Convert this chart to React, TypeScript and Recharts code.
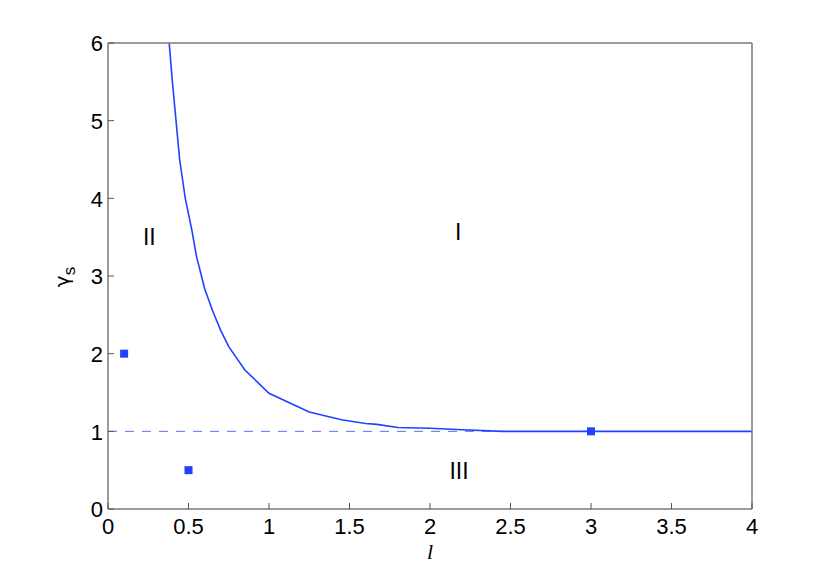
import {
  ComposedChart,
  Line,
  Scatter,
  XAxis,
  YAxis,
} from "recharts";

// phase boundary gamma_s(l)
const curveL = [0.38, 0.4, 0.445, 0.48, 0.52, 0.55, 0.6, 0.65, 0.7, 0.75, 0.85, 1.0, 1.25, 1.45, 1.6, 1.67, 1.8, 2.0, 2.2, 2.45, 3.0, 3.5, 4.0];
const curveG = [6.0, 5.5, 4.5, 4.0, 3.6, 3.25, 2.84, 2.55, 2.3, 2.09, 1.79, 1.49, 1.25, 1.15, 1.1, 1.09, 1.05, 1.04, 1.02, 1.0, 1.0, 1.0, 1.0];

// dashed level gamma_s = 1
const levelL = [0, 2.45];
const levelG = [1, 1];

// sample points
const markL = [0.1, 0.5, 3.0];
const markG = [2.0, 0.5, 1.0];

// region names
const regionNames = ["I", "II", "III"];
const regionL = [2.175, 0.257, 2.18];
const regionG = [3.57, 3.5, 0.49];

const xTicks = [0, 0.5, 1, 1.5, 2, 2.5, 3, 3.5, 4];
const yTicks = [0, 1, 2, 3, 4, 5, 6];

const curveData = curveL.map((l, i) => ({ l, g: curveG[i] }));
const levelData = levelL.map((l, i) => ({ l, g: levelG[i] }));
const markData = markL.map((l, i) => ({ l, g: markG[i] }));
const regionData = regionNames.map((name, i) => ({ l: regionL[i], g: regionG[i], name }));

const BLUE = "#2240ff";
const AXIS = "#7a7a7a";
const TICK = "#555";
const FONT = "'Liberation Sans', Arial, Helvetica, sans-serif";
const TICK_LEN = 6;

const fmt = (v: number) => String(v);

// eslint-disable-next-line @typescript-eslint/no-explicit-any
function BottomTick(props: any) {
  const { x, y, payload } = props;
  const base = y - 17;
  return (
    <g>
      <line x1={x} y1={base} x2={x} y2={base - TICK_LEN} stroke={TICK} strokeWidth={1} />
      <text x={x} y={y} dy="0.36em" textAnchor="middle" fontFamily={FONT} fontSize={22} fill="#000">
        {fmt(payload.value)}
      </text>
    </g>
  );
}

// eslint-disable-next-line @typescript-eslint/no-explicit-any
function LeftTick(props: any) {
  const { x, y, payload } = props;
  const base = x + 5;
  return (
    <g>
      <line x1={base} y1={y} x2={base + TICK_LEN} y2={y} stroke={TICK} strokeWidth={1} />
      <text x={x} y={y} dy="0.38em" textAnchor="end" fontFamily={FONT} fontSize={22} fill="#000">
        {fmt(payload.value)}
      </text>
    </g>
  );
}

// eslint-disable-next-line @typescript-eslint/no-explicit-any
function TopTick(props: any) {
  const { x, y } = props;
  return <line x1={x} y1={y} x2={x} y2={y + TICK_LEN} stroke={TICK} strokeWidth={1} />;
}

// eslint-disable-next-line @typescript-eslint/no-explicit-any
function RightTick(props: any) {
  const { x, y } = props;
  return <line x1={x} y1={y} x2={x - TICK_LEN} y2={y} stroke={TICK} strokeWidth={1} />;
}

// eslint-disable-next-line @typescript-eslint/no-explicit-any
function SquareMark(props: any) {
  const { cx, cy } = props;
  return <rect x={cx - 4} y={cy - 4} width={8} height={8} fill={BLUE} />;
}

// eslint-disable-next-line @typescript-eslint/no-explicit-any
function RegionText(props: any) {
  const { cx, cy, payload } = props;
  return (
    <text x={cx} y={cy} dy="0.36em" textAnchor="middle" fontFamily={FONT} fontSize={23} fill="#000">
      {payload.name}
    </text>
  );
}

export default function App() {
  return (
    <div style={{ position: "absolute", left: 0, top: 0, width: 830, height: 573, background: "#fff" }}>
      <ComposedChart
        width={830}
        height={573}
        margin={{ top: 42, right: 77, left: 0, bottom: 0 }}
      >
        <XAxis
          xAxisId="b"
          dataKey="l"
          type="number"
          domain={[0, 4]}
          ticks={xTicks}
          height={64}
          axisLine={{ stroke: AXIS, strokeWidth: 1.5 }}
          tickLine={false}
          tickSize={0}
          tickMargin={17}
          tick={<BottomTick />}
          interval={0}
          label={{
            // eslint-disable-next-line @typescript-eslint/no-explicit-any
            content: (p: any) => {
              const vb = p.viewBox;
              return (
                <text
                  x={vb.x + vb.width / 2}
                  y={vb.y + 50}
                  textAnchor="middle"
                  fontFamily="'Liberation Serif', 'Times New Roman', serif"
                  fontStyle="italic"
                  fontSize={22}
                  fill="#000"
                >
                  l
                </text>
              );
            },
          }}
        />
        <XAxis
          xAxisId="t"
          orientation="top"
          dataKey="l"
          type="number"
          domain={[0, 4]}
          ticks={xTicks}
          height={1}
          axisLine={{ stroke: AXIS, strokeWidth: 1.5 }}
          tickLine={false}
          tickSize={0}
          tickMargin={0}
          tick={<TopTick />}
          interval={0}
        />
        <YAxis
          yAxisId="l"
          dataKey="g"
          type="number"
          domain={[0, 6]}
          ticks={yTicks}
          width={108}
          axisLine={{ stroke: AXIS, strokeWidth: 1.5 }}
          tickLine={false}
          tickSize={0}
          tickMargin={5}
          tick={<LeftTick />}
          interval={0}
          label={{
            // eslint-disable-next-line @typescript-eslint/no-explicit-any
            content: (p: any) => {
              const vb = p.viewBox;
              const cx = 69;
              const cy = vb.y + vb.height / 2 + 1;
              return (
                <text
                  x={cx}
                  y={cy}
                  transform={`rotate(-90 ${cx} ${cy})`}
                  textAnchor="middle"
                  fontFamily="'DejaVu Sans', sans-serif"
                  fontSize={20}
                  fill="#000"
                >
                  γ
                  <tspan dy={6} fontFamily={FONT} fontSize={17}>s</tspan>
                </text>
              );
            },
          }}
        />
        <YAxis
          yAxisId="r"
          orientation="right"
          dataKey="g"
          type="number"
          domain={[0, 6]}
          ticks={yTicks}
          width={1}
          axisLine={{ stroke: AXIS, strokeWidth: 1.5 }}
          tickLine={false}
          tickSize={0}
          tickMargin={0}
          tick={<RightTick />}
          interval={0}
        />

        <Line
          xAxisId="b"
          yAxisId="l"
          data={levelData}
          dataKey="g"
          type="linear"
          stroke="#5270ff"
          strokeWidth={1}
          strokeDasharray="9 8"
          dot={false}
          activeDot={false}
          isAnimationActive={false}
        />
        <Line
          xAxisId="b"
          yAxisId="l"
          data={curveData}
          dataKey="g"
          type="linear"
          stroke={BLUE}
          strokeWidth={1.6}
          dot={false}
          activeDot={false}
          isAnimationActive={false}
        />
        <Scatter
          xAxisId="b"
          yAxisId="l"
          data={markData}
          dataKey="g"
          shape={<SquareMark />}
          isAnimationActive={false}
        />
        <Scatter
          xAxisId="b"
          yAxisId="l"
          data={regionData}
          dataKey="g"
          shape={<RegionText />}
          isAnimationActive={false}
        />
      </ComposedChart>
    </div>
  );
}
